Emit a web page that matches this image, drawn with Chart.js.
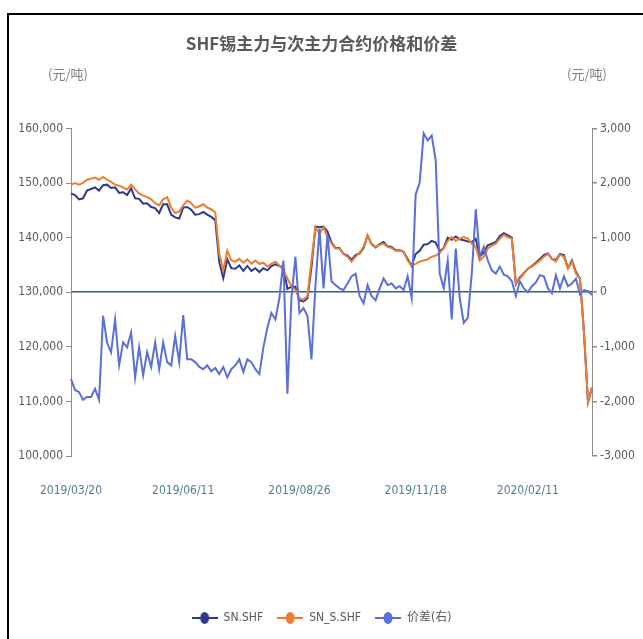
<!DOCTYPE html>
<html>
<head>
<meta charset="utf-8">
<script src="https://cdn.jsdelivr.net/npm/chart.js@4.4.1/dist/chart.umd.min.js"></script>
<style>
  html, body { margin: 0; padding: 0; background: #fff; }
  #lienzo { position: relative; width: 643px; height: 639px; overflow: hidden; }
  #marco { position: absolute; left: 7px; top: 13px; width: 700px; height: 700px;
           border-left: 2px solid #000; border-top: 2px solid #000; }
  .unidad { position: absolute; top: 64px; font: 13px "Noto Sans CJK SC", sans-serif; color: #7f7f7f; }
  canvas { position: absolute; left: 0; top: 0; }
</style>
</head>
<body>
<div id="lienzo">
  <div id="marco"></div>
  <canvas id="grafica" width="643" height="639"></canvas>
  <div class="unidad" style="left:48px">(元/吨)</div>
  <div class="unidad" style="left:567px">(元/吨)</div>
</div>
<script>
// fechas que se ven en el eje x y el punto donde cae cada una
const fechasEje = ['2019/03/20', '2019/06/11', '2019/08/26', '2019/11/18', '2020/02/11'];
const posFechas = [0, 28, 57, 86, 114];

// SN.SHF (主力), 元/吨
const snShf = [
  148100, 147800, 147000, 147200, 148600, 148900, 149200, 148600, 149600, 149700,
  149100, 149200, 148200, 148300, 147800, 149000, 147200, 147100, 146200, 146300,
  145600, 145400, 144500, 146100, 146100, 144200, 143700, 143500, 145500, 145600,
  145100, 144200, 144300, 144700, 144200, 143800, 143200, 135500, 132600, 136000,
  134400, 134300, 134900, 133900, 134800, 133900, 134400, 133700, 134400, 134000,
  134800, 135100, 134800, 134600, 130600, 131000, 131000, 128500, 128300, 128900,
  134600, 142000, 141900, 142000, 141100, 139100, 138100, 138100, 137000, 136700,
  135900, 136800, 137100, 138100, 140400, 138800, 138200, 138800, 139200, 138400,
  138300, 137700, 137700, 137400, 136100, 134800, 137000, 137600, 138700, 138800,
  139400, 139100, 137500, 138100, 140000, 139600, 140200, 139700, 139500, 139300,
  139200, 139800, 136500, 137300, 138600, 138900, 139200, 140300, 140800, 140400,
  140000, 131500, 132700, 133500, 134300, 134800, 135400, 136100, 136800, 137100,
  136100, 135900, 137000, 136800, 134400, 135800, 133700, 132500, 122600, 109900,
  112500
];

// SN_S.SHF (次主力), 元/吨
const snSShf = [
  149700, 150000, 149700, 150000, 150600, 150800, 151000, 150600, 151100, 150600,
  150200, 149700, 149500, 149200, 148800, 149700, 148800, 148100, 147700, 147400,
  147000, 146300, 145900, 147000, 147400, 145500, 144500, 144800, 145900, 146800,
  146300, 145500, 145700, 146100, 145500, 145200, 144600, 137000, 134000, 137600,
  135800, 135600, 136100, 135400, 136000, 135200, 135800, 135200, 135400, 134700,
  135200, 135600, 134900, 134000, 132500, 131100, 130400, 128900, 128600, 129300,
  135800, 141900, 140700, 141900, 140100, 138900, 138000, 138000, 137000, 136500,
  135600, 136500, 137200, 138300, 140300, 138900, 138300, 138700, 138900, 138300,
  138100, 137600, 137600, 137400, 135800, 134900, 135200, 135600, 135800, 136000,
  136500, 136700, 137200, 138000, 139400, 140100, 139400, 139800, 140100, 139800,
  138900, 138300, 135800, 136500, 138000, 138500, 138900, 139800, 140500, 140100,
  139800, 131600, 132500, 133400, 134300, 134700, 135200, 135800, 136500, 137000,
  136100, 135600, 136900, 136500, 134300, 135600, 133400, 132500, 122600, 109900,
  112600
];

// 价差(右), 元/吨
const spread = [
  -1590, -1790, -1830, -1970, -1920, -1920, -1770, -1970, -430, -920,
  -1100, -500, -1340, -920, -1010, -740, -1560, -1010, -1520, -1100,
  -1370, -920, -1410, -920, -1280, -1340, -800, -1280, -420, -1230,
  -1230, -1280, -1370, -1410, -1340, -1450, -1390, -1500, -1370, -1560,
  -1410, -1340, -1230, -1460, -1230, -1280, -1410, -1500, -1010, -650,
  -380, -500, -110, 580, -1860, -110, 650, -380, -290, -430,
  -1230, 130, 1160, 70, 1050, 200, 130, 70, 40, 160,
  290, 340, -70, -200, 130, -70, -150, 70, 250, 130,
  160, 70, 110, 40, 290, -110, 1790, 2010, 2910, 2780,
  2870, 2420, 340, 70, 580, -500, 800, -110, -560, -470,
  340, 1520, 650, 830, 580, 400, 340, 470, 320, 290,
  200, -70, 200, 70, 0, 110, 180, 310, 290, 70,
  -20, 310, 70, 290, 110, 160, 250, -40, 40, 20,
  -50
];

const etiquetas = snShf.map((_, i) => {
  const k = posFechas.indexOf(i);
  return k >= 0 ? fechasEje[k] : '';
});

const fuenteLatina = '"DejaVu Sans Condensed", "Noto Sans CJK SC", sans-serif';
const gris = '#8c8c8c';

// marcador de la leyenda: línea con un círculo en medio
function marcador(color) {
  const c = document.createElement('canvas');
  c.width = 26; c.height = 14;
  const g = c.getContext('2d');
  g.strokeStyle = color; g.lineWidth = 2;
  g.beginPath(); g.moveTo(0, 7); g.lineTo(26, 7); g.stroke();
  g.fillStyle = color;
  g.beginPath(); g.ellipse(13, 7, 4.5, 6, 0, 0, Math.PI * 2); g.fill();
  return c;
}

const miles = v => Number(v).toLocaleString('en-US');

new Chart(document.getElementById('grafica'), {
  type: 'line',
  data: {
    labels: etiquetas,
    datasets: [
      { label: 'SN.SHF', data: snShf, borderColor: '#2e3a87', yAxisID: 'y', order: 3 },
      { label: 'SN_S.SHF', data: snSShf, borderColor: '#ed7d31', yAxisID: 'y', order: 2 },
      { label: '价差(右)', data: spread, borderColor: '#5a6fd8', yAxisID: 'y2', order: 1 },
    ],
  },
  options: {
    responsive: false,
    animation: false,
    devicePixelRatio: 1,
    layout: { padding: { top: 0, bottom: 5, left: 0, right: 0 } },
    elements: {
      line: { borderWidth: 2, tension: 0 },
      point: { radius: 0, hoverRadius: 0 },
    },
    plugins: {
      tooltip: { enabled: false },
      title: {
        display: true,
        text: 'SHF锡主力与次主力合约价格和价差',
        color: '#595959',
        font: { family: '"Noto Sans CJK SC", sans-serif', size: 17, weight: 'bold', lineHeight: 1.2 },
        padding: { top: 33, bottom: 75 },
      },
      legend: {
        position: 'bottom',
        labels: {
          usePointStyle: true,
          pointStyleWidth: 26,
          boxHeight: 14,
          padding: 14,
          color: '#595959',
          font: { family: fuenteLatina, size: 12 },
          generateLabels: chart => chart.data.datasets.map((d, i) => ({
            text: d.label,
            pointStyle: marcador(d.borderColor),
            fillStyle: d.borderColor,
            strokeStyle: d.borderColor,
            lineWidth: 0,
            hidden: false,
            datasetIndex: i,
            fontColor: '#595959',
          })),
        },
      },
    },
    scales: {
      x: {
        grid: { display: false, drawTicks: false },
        border: { display: false },
        ticks: {
          autoSkip: false, maxRotation: 0, padding: 28,
          color: '#4e7f8e',
          font: { family: fuenteLatina, size: 12 },
          callback: function (v) { return this.getLabelForValue(v); },
        },
        afterFit: s => { s.height = 142; },
      },
      y: {
        position: 'left',
        min: 100000, max: 160000,
        ticks: { stepSize: 10000, color: '#595959', padding: 3, font: { family: fuenteLatina, size: 12 }, callback: miles },
        grid: { drawOnChartArea: false, tickLength: 5, tickColor: gris },
        border: { display: true, color: gris, width: 1 },
        afterFit: s => { s.width = 71; },
      },
      y2: {
        position: 'right',
        min: -3000, max: 3000,
        ticks: { stepSize: 1000, color: '#595959', padding: 3, font: { family: fuenteLatina, size: 12 }, callback: miles },
        grid: {
          drawOnChartArea: true,
          tickLength: 5,
          tickColor: gris,
          lineWidth: 1.5,
          color: ctx => (ctx.tick && ctx.tick.value === 0 ? '#2a6478' : 'rgba(0,0,0,0)'),
        },
        border: { display: true, color: gris, width: 1 },
        afterFit: s => { s.width = 51; },
      },
    },
  },
});
</script>
</body>
</html>
